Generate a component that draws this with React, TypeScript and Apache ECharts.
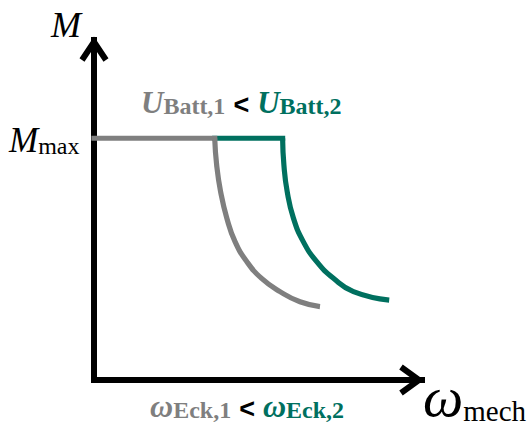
import React, { useEffect, useRef } from "react";
import * as echarts from "echarts";

// Normalised speed (x) and torque (y), both on 0..100 scales.
const M_MAX = 71.1;

// Constant-torque region for each battery voltage
const grayBaseX = [0, 36.8];
const grayBaseM = [M_MAX, M_MAX];
const tealBaseX = [36.8, 57.5];
const tealBaseM = [M_MAX, M_MAX];

// Field-weakening region (torque falls with speed)
const grayFieldX = [36.8, 37.4, 38.6, 40.5, 43.0, 46.6, 51.1, 56.7, 62.8, 68.9];
const grayFieldM = [M_MAX, 63.2, 55.4, 47.6, 40.7, 34.8, 29.9, 26.0, 23.0, 21.6];
const tealFieldX = [57.5, 57.9, 58.9, 60.8, 63.8, 67.9, 73.0, 79.1, 90.0];
const tealFieldM = [M_MAX, 63.2, 55.4, 47.6, 40.7, 34.8, 29.9, 26.0, 23.5];

const GRAY = "#7f7f7f";
const TEAL = "#00705f";
const SERIF = "'Liberation Serif', 'DejaVu Serif', serif";
const SANS = "'Liberation Sans', Arial, sans-serif";

const GRID = { left: 94, top: 40, right: 108, bottom: 49 };
const W = 530;
const H = 429;

const pairs = (xs: number[], ys: number[]) => xs.map((x, i) => [x, ys[i]]);

export default function App() {
  const ref = useRef<HTMLDivElement>(null);

  useEffect(() => {
    if (!ref.current) return;
    const chart = echarts.init(ref.current, undefined, { renderer: "svg" });

    const axisX0 = GRID.left;
    const axisY0 = H - GRID.bottom;
    const axisXEnd = W - GRID.right;
    const axisYEnd = GRID.top;

    const lineSeries = (name: string, data: number[][], color: string, smooth: number | boolean, cap: string) => ({
      type: "line",
      name,
      data,
      smooth,
      symbol: "none",
      lineStyle: { color, width: 5.2, cap, join: "miter" },
      silent: true,
    });

    // rich-text token; lineHeight sets where the glyph baseline lands
    const tok = (fill: string, size: number, lh: number, opts: Record<string, unknown> = {}) => ({
      fontFamily: SERIF,
      fontSize: size,
      fill,
      verticalAlign: "bottom",
      lineHeight: lh,
      ...opts,
    });

    chart.setOption({
      animation: false,
      backgroundColor: "#ffffff",
      grid: { ...GRID, containLabel: false },
      xAxis: {
        type: "value",
        min: 0,
        max: 100,
        axisLine: { show: true, lineStyle: { color: "#000", width: 6, cap: "square" } },
        axisTick: { show: false },
        axisLabel: { show: false },
        splitLine: { show: false },
      },
      yAxis: {
        type: "value",
        min: 0,
        max: 100,
        axisLine: { show: true, lineStyle: { color: "#000", width: 6, cap: "square" } },
        axisTick: { show: false },
        axisLabel: { show: false },
        splitLine: { show: false },
      },
      series: [
        lineSeries("teal-base", pairs(tealBaseX, tealBaseM), TEAL, false, "square"),
        lineSeries("teal-field", pairs(tealFieldX, tealFieldM), TEAL, 0.5, "butt"),
        lineSeries("gray-base", pairs(grayBaseX, grayBaseM), GRAY, false, "square"),
        lineSeries("gray-field", pairs(grayFieldX, grayFieldM), GRAY, 0.5, "butt"),
      ],
      graphic: [
        // arrow heads
        {
          type: "polyline",
          shape: { points: [[axisX0 - 12, axisYEnd + 20], [axisX0, axisYEnd + 2], [axisX0 + 12, axisYEnd + 20]] },
          style: { stroke: "#000", lineWidth: 6, fill: "none", lineJoin: "miter" },
          z: 10,
        },
        {
          type: "polyline",
          shape: { points: [[axisXEnd - 21, axisY0 - 13], [axisXEnd - 3, axisY0], [axisXEnd - 21, axisY0 + 13]] },
          style: { stroke: "#000", lineWidth: 6, fill: "none", lineJoin: "miter" },
          z: 10,
        },
        // axis names
        {
          type: "text",
          x: 51,
          y: 43,
          style: {
            text: "M",
            fontFamily: SERIF,
            fontStyle: "italic",
            fontSize: 36,
            fill: "#000",
            verticalAlign: "bottom",
          },
        },
        {
          type: "text",
          x: 9,
          y: 158,
          style: {
            text: "{m|M}{s|max}",
            verticalAlign: "bottom",
            rich: {
              m: tok("#000", 35, 35, { fontStyle: "italic" }),
              s: tok("#000", 24, 26),
            },
          },
        },
        {
          type: "text",
          x: 423,
          y: 425,
          style: {
            text: "{w|ω}{s|mech}",
            verticalAlign: "bottom",
            rich: {
              w: tok("#000", 57, 57, { fontStyle: "italic" }),
              s: tok("#000", 29, 25),
            },
          },
        },
        // battery voltage comparison
        {
          type: "text",
          x: 141,
          y: 118,
          style: {
            text: "{u1|U}{s1|Batt,1}{lt|<}{u2|U}{s2|Batt,2}",
            verticalAlign: "bottom",
            rich: {
              u1: tok(GRAY, 31, 31, { fontStyle: "italic", fontWeight: "bold" }),
              s1: tok(GRAY, 24, 20, { fontWeight: "bold" }),
              lt: tok("#000", 27, 26, { fontFamily: SANS, fontWeight: "bold", padding: [0, 8, 0, 8] }),
              u2: tok(TEAL, 31, 31, { fontStyle: "italic", fontWeight: "bold" }),
              s2: tok(TEAL, 24, 20, { fontWeight: "bold" }),
            },
          },
        },
        // corner speed comparison
        {
          type: "text",
          x: 150,
          y: 422,
          style: {
            text: "{w1|ω}{s1|Eck,1}{lt|<}{w2|ω}{s2|Eck,2}",
            verticalAlign: "bottom",
            rich: {
              w1: tok(GRAY, 32, 32, { fontStyle: "italic", fontWeight: "bold" }),
              s1: tok(GRAY, 24, 15, { fontWeight: "bold" }),
              lt: tok("#000", 27, 19, { fontFamily: SANS, fontWeight: "bold", padding: [0, 8, 0, 8] }),
              w2: tok(TEAL, 32, 32, { fontStyle: "italic", fontWeight: "bold" }),
              s2: tok(TEAL, 24, 15, { fontWeight: "bold" }),
            },
          },
        },
      ],
    });

    return () => chart.dispose();
  }, []);

  return (
    <div
      ref={ref}
      style={{ position: "fixed", left: 0, top: 0, width: W, height: H, background: "#fff" }}
    />
  );
}
